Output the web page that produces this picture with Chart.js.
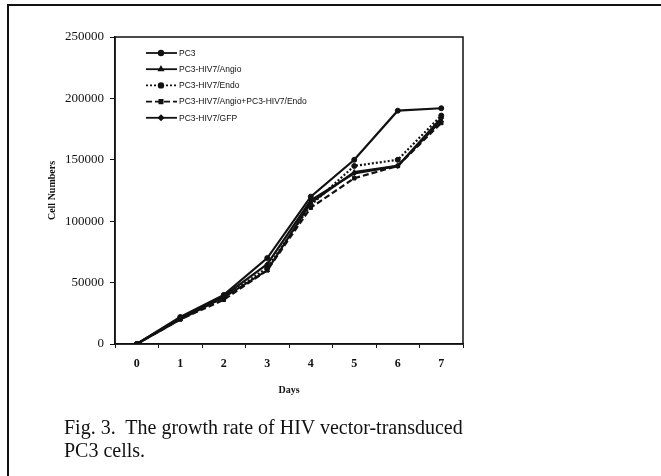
<!DOCTYPE html>
<html>
<head>
<meta charset="utf-8">
<script src="https://cdn.jsdelivr.net/npm/chart.js@4/dist/chart.umd.min.js"></script>
<style>
  html, body { margin: 0; padding: 0; background: #fff; overflow: hidden; }
  #wrap { position: relative; width: 661px; height: 476px; }
  #frame { position: absolute; left: 7px; top: 4px; width: 700px; height: 500px;
           border-top: 2px solid #111; border-left: 2px solid #111; }
  #grafico { position: absolute; left: 0; top: 0; }
  #legenda { position: absolute; left: 64px; top: 416px; font: 20px "Liberation Serif", serif;
             line-height: 23px; color: #111; white-space: pre; }
</style>
</head>
<body>
<div id="wrap">
  <div id="frame"></div>
  <canvas id="grafico" width="661" height="476"></canvas>
  <div id="legenda">Fig. 3.  The growth rate of HIV vector-transduced
PC3 cells.</div>
</div>
<script>
// dados (número de células por dia)
const dias = ['0', '1', '2', '3', '4', '5', '6', '7'];
const nomesSeries = ['PC3', 'PC3-HIV7/Angio', 'PC3-HIV7/Endo', 'PC3-HIV7/Angio+PC3-HIV7/Endo', 'PC3-HIV7/GFP'];
const pc3 =        [0, 22000, 40000, 70000, 120000, 150000, 190000, 192000];
const angio =      [0, 20000, 38000, 60000, 115000, 140000, 145000, 182000];
const endo =       [0, 21000, 38000, 62000, 113000, 145000, 150000, 186000];
const angioEndo =  [0, 20000, 36000, 60000, 111000, 135000, 145000, 180000];
const gfp =        [0, 21000, 39000, 65000, 117000, 139000, 145000, 184000];
const ticksY = [0, 50000, 100000, 150000, 200000, 250000];

const estilos = [
    { dash: [], ponto: 'circle' },
    { dash: [], ponto: 'triangle' },
    { dash: [2, 2], ponto: 'circle' },
    { dash: [6, 3], ponto: 'rect' },
    { dash: [], ponto: 'rectRot' }
];
const valores = [pc3, angio, endo, angioEndo, gfp];

// legenda desenhada dentro da área do gráfico, como no original
const legendaInterna = {
    id: 'legendaInterna',
    afterDraw(chart) {
        const ctx = chart.ctx;
        chart.data.datasets.forEach((ds, i) => {
            const y = 53 + i * 16.2;
            ctx.save();
            ctx.strokeStyle = '#111';
            ctx.lineWidth = 1.8;
            ctx.setLineDash(ds.borderDash);
            ctx.beginPath();
            ctx.moveTo(146, y);
            ctx.lineTo(177, y);
            ctx.stroke();
            ctx.setLineDash([]);
            Chart.helpers.drawPoint(ctx, { pointStyle: ds.pointStyle, radius: 2.3, borderWidth: 1 }, 161, y);
            ctx.fillStyle = '#111';
            ctx.fill();
            ctx.font = '8.5px "Liberation Sans", Arial, sans-serif';
            ctx.textBaseline = 'middle';
            ctx.fillText(ds.label, 179, y + 0.5);
            ctx.restore();
        });
        // moldura da área do gráfico
        const a = chart.chartArea;
        ctx.save();
        ctx.strokeStyle = '#111';
        ctx.lineWidth = 1.5;
        ctx.strokeRect(a.left, a.top, a.right - a.left, a.bottom - a.top);
        ctx.restore();
    }
};

function desenharGrafico() {
    const ctx = document.getElementById('grafico').getContext('2d');
    new Chart(ctx, {
        type: 'line',
        data: {
            labels: dias,
            datasets: nomesSeries.map((nome, i) => ({
                label: nome,
                data: valores[i],
                borderColor: '#111',
                backgroundColor: '#111',
                borderWidth: 2.2,
                borderDash: estilos[i].dash,
                pointStyle: estilos[i].ponto,
                pointRadius: 2.5,
                pointBorderWidth: 1,
                tension: 0,
                fill: false
            }))
        },
        options: {
            responsive: false,
            animation: false,
            layout: { padding: { left: 42, top: 37, right: 198, bottom: 76 } },
            plugins: { legend: { display: false }, tooltip: { enabled: false } },
            scales: {
                x: {
                    offset: true,
                    grid: { offset: true, drawOnChartArea: false, drawTicks: true, tickLength: 4, tickColor: '#111' },
                    border: { color: '#111', width: 1.5 },
                    ticks: { color: '#111', padding: 9, font: { family: 'Liberation Serif', size: 12, weight: 'bold' } },
                    title: { display: true, text: 'Days', color: '#111', padding: { top: 0, bottom: 4 },
                             font: { family: 'Liberation Serif', size: 10, weight: 'bold' } },
                    afterFit(scale) { scale.height = 56; }
                },
                y: {
                    min: 0,
                    max: 250000,
                    afterBuildTicks(scale) { scale.ticks = ticksY.map(v => ({ value: v })); },
                    grid: { drawOnChartArea: false, drawTicks: true, tickLength: 5, tickColor: '#111' },
                    border: { color: '#111', width: 1.5 },
                    ticks: { color: '#111', padding: 6, callback: v => String(v),
                             font: { family: 'Liberation Serif', size: 13 } },
                    title: { display: true, text: 'Cell Numbers', color: '#111', padding: { top: 4, bottom: 0 },
                             font: { family: 'Liberation Serif', size: 10, weight: 'bold' } },
                    afterFit(scale) { scale.width = 73; }
                }
            }
        },
        plugins: [legendaInterna]
    });
}

window.onload = desenharGrafico;
</script>
</body>
</html>
